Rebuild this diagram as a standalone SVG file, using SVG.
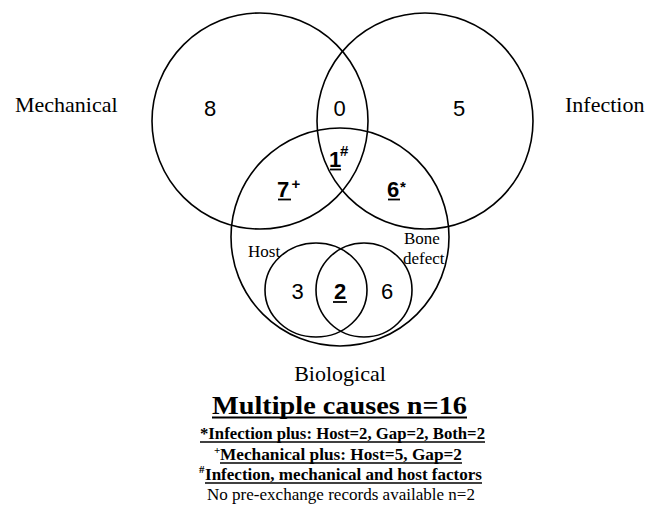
<svg xmlns="http://www.w3.org/2000/svg" width="662" height="505" viewBox="0 0 662 505">
<style>
.c{fill:none;stroke:#000;stroke-width:1.6}
.serif{font-family:"Liberation Serif","Times New Roman",serif;fill:#000}
.sans{font-family:"Liberation Sans",Arial,sans-serif;fill:#000}
.lab{font-size:22px}
.small{font-size:17px}
.num{font-size:22px}
.bnum{font-size:22px;font-weight:bold}
.sup{font-size:15px;font-weight:bold}
.ul{stroke:#000;stroke-width:1.8}
.b{font-weight:bold}
</style>
<rect width="662" height="505" fill="#fff"/>
<g id="connectors"></g>
<g id="mechanical">
<circle class="c" cx="260" cy="121" r="108"/>
<text class="serif lab" x="15" y="112">Mechanical</text>
</g>
<g id="infection">
<circle class="c" cx="425" cy="121" r="108"/>
<text class="serif lab" x="565" y="112">Infection</text>
</g>
<g id="biological">
<circle class="c" cx="340" cy="237" r="109"/>
<text class="serif lab" x="340" y="381" text-anchor="middle">Biological</text>
</g>
<g id="host">
<ellipse class="c" cx="316" cy="290" rx="51" ry="47"/>
<text class="serif small" x="248" y="257">Host</text>
</g>
<g id="bone-defect">
<ellipse class="c" cx="364" cy="290" rx="48" ry="47"/>
<text class="serif small" x="404" y="244">Bone</text>
<text class="serif small" x="403" y="264">defect</text>
</g>
<g id="counts">
<text class="sans num" x="210" y="116" text-anchor="middle">8</text>
<text class="sans num" x="339.5" y="116" text-anchor="middle">0</text>
<text class="sans num" x="459" y="116" text-anchor="middle">5</text>
<text class="sans bnum" x="329" y="167">1</text>
<text class="sans sup" x="340" y="156">#</text>
<line class="ul" x1="330" y1="169.5" x2="341" y2="169.5"/>
<text class="sans bnum" x="277" y="197">7</text>
<text class="sans sup" x="291.5" y="188.5" font-size="14">+</text>
<line class="ul" x1="278" y1="199.5" x2="291" y2="199.5"/>
<text class="sans bnum" x="387" y="197">6</text>
<text class="sans sup" x="400" y="192" font-size="17">*</text>
<line class="ul" x1="388" y1="199.5" x2="400" y2="199.5"/>
<text class="sans num" x="297.5" y="299" text-anchor="middle">3</text>
<text class="sans bnum" x="340" y="299" text-anchor="middle">2</text>
<line class="ul" x1="333" y1="302" x2="347" y2="302"/>
<text class="sans num" x="387" y="299" text-anchor="middle">6</text>
</g>
<g id="legend">
<text class="serif b" x="212" y="414" font-size="26" textLength="255" lengthAdjust="spacingAndGlyphs">Multiple causes n=16</text>
<line x1="212" y1="417.5" x2="467" y2="417.5" stroke="#000" stroke-width="2"/>
<text class="serif b" x="200" y="439" font-size="17" textLength="285" lengthAdjust="spacingAndGlyphs">*Infection plus: Host=2, Gap=2, Both=2</text>
<line x1="200" y1="442" x2="485" y2="442" stroke="#000" stroke-width="1.3"/>
<text class="serif b" x="214" y="454" font-size="11">+</text>
<text class="serif b" x="220" y="460" font-size="17" textLength="242" lengthAdjust="spacingAndGlyphs">Mechanical plus: Host=5, Gap=2</text>
<line x1="220" y1="463" x2="462" y2="463" stroke="#000" stroke-width="1.3"/>
<text class="serif b" x="199" y="473" font-size="11">#</text>
<text class="serif b" x="205" y="480" font-size="17" textLength="277" lengthAdjust="spacingAndGlyphs">Infection, mechanical and host factors</text>
<line x1="205" y1="483" x2="482" y2="483" stroke="#000" stroke-width="1.3"/>
<text class="serif" x="207" y="500" font-size="17" textLength="268" lengthAdjust="spacingAndGlyphs">No pre-exchange records available n=2</text>
</g>
</svg>
